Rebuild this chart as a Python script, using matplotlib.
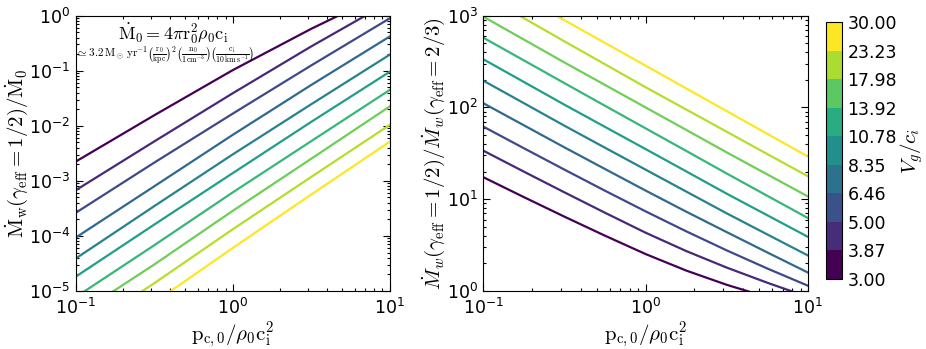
import numpy as np
import matplotlib
matplotlib.use('Agg')
import matplotlib.pyplot as plt
from matplotlib.colors import BoundaryNorm
import matplotlib.cm as cm

plt.rcParams['font.family'] = ['DejaVu Sans']
plt.rcParams['mathtext.fontset'] = 'dejavusans'
plt.rcParams['xtick.direction'] = 'in'
plt.rcParams['ytick.direction'] = 'in'
plt.rcParams['xtick.top'] = True
plt.rcParams['ytick.right'] = True
plt.rcParams['xtick.major.size'] = 5
plt.rcParams['ytick.major.size'] = 5
plt.rcParams['xtick.minor.size'] = 2.5
plt.rcParams['ytick.minor.size'] = 2.5
plt.rcParams['xtick.major.pad'] = 5
plt.rcParams['ytick.major.pad'] = 4

# x values (p_c0 / rho0 ci^2)
p_left = [0.1, 0.316, 1.0, 3.16, 10.0]
p_right = [0.1, 0.178, 0.316, 0.562, 1.0, 1.78, 3.16, 5.62, 10.0]

# V_g / c_i of each curve (also colorbar bounds)
vg_levels = [3.00, 3.87, 5.00, 6.46, 8.35, 10.78, 13.92, 17.98, 23.23, 30.00]

# log10 of Mdot_w(gamma=1/2)/Mdot_0, one row per V_g
log_mdot_left = [
    [-2.65, -1.81, -0.99, -0.24, 0.45],
    [-3.17, -2.285, -1.41, -0.56, 0.25],
    [-3.58, -2.67, -1.78, -0.905, -0.05],
    [-4.03, -3.10, -2.165, -1.26, -0.38],
    [-4.41, -3.46, -2.52, -1.61, -0.71],
    [-4.74, -3.795, -2.86, -1.93, -1.02],
    [-5.11, -4.17, -3.21, -2.28, -1.35],
    [-5.45, -4.52, -3.545, -2.60, -1.65],
    [-5.80, -4.86, -3.88, -2.93, -1.985],
    [-6.20, -5.21, -4.22, -3.25, -2.29],
]

# log10 of Mdot_w(1/2)/Mdot_w(2/3)
log_mdot_right = [
    [1.24, 1.0225, 0.81, 0.6025, 0.4025, 0.2225, 0.0675, -0.0675, -0.1875],
    [1.529, 1.30, 1.075, 0.8525, 0.635, 0.435, 0.255, 0.09, -0.065],
    [1.791, 1.555, 1.3225, 1.0925, 0.8675, 0.65, 0.4425, 0.245, 0.0575],
    [2.046, 1.805, 1.565, 1.329, 1.094, 0.864, 0.6415, 0.42, 0.201],
    [2.292, 2.046, 1.801, 1.561, 1.322, 1.083, 0.846, 0.616, 0.387],
    [2.525, 2.277, 2.03, 1.788, 1.546, 1.303, 1.06, 0.825, 0.59],
    [2.76, 2.512, 2.265, 2.018, 1.772, 1.526, 1.28, 1.037, 0.795],
    [2.989, 2.739, 2.49, 2.245, 2.0, 1.755, 1.51, 1.27, 1.03],
    [3.225, 2.972, 2.72, 2.47, 2.22, 1.977, 1.735, 1.492, 1.25],
    [3.45, 3.2, 2.95, 2.702, 2.455, 2.207, 1.96, 1.712, 1.464],
]

cmap = plt.get_cmap('viridis')
colors = [cmap(i / (len(vg_levels) - 1)) for i in range(len(vg_levels))]

fig = plt.figure(figsize=(9.26, 3.49), dpi=100)
ax1 = fig.add_axes([0.0818, 0.1662, 0.339, 0.789])
ax2 = fig.add_axes([0.5219, 0.1662, 0.3506, 0.789])
cax = fig.add_axes([0.892, 0.2006, 0.0173, 0.736])

for i in range(len(vg_levels)):
    ax1.plot(p_left, 10 ** np.array(log_mdot_left[i]), color=colors[i], lw=1.6)
    ax2.plot(p_right, 10 ** np.array(log_mdot_right[i]), color=colors[i], lw=1.6)

xlab = r'$\mathrm{p_{c,0}/\rho_0 c_i^2}$'
for ax in (ax1, ax2):
    ax.set_xscale('log')
    ax.set_yscale('log')
    ax.set_xlim(0.1, 10)
    ax.set_xlabel(xlab, fontsize=15, math_fontfamily='cm', labelpad=1)
    ax.tick_params(labelsize=12.5)
    ax.tick_params(which='both', width=0.8)

ax1.set_ylim(1e-5, 1)
ax2.set_ylim(1, 1e3)

ax1.set_ylabel(r'$\dot{\rm M}_{\rm w}(\gamma_{\rm eff}=1/2)/\dot{\rm M}_0$',
               fontsize=15, math_fontfamily='cm', labelpad=-1)
ax2.set_ylabel(r'$\dot{M}_w(\gamma_{\rm eff}=1/2)/\dot{M}_w(\gamma_{\rm eff}=2/3)$',
               fontsize=15, math_fontfamily='cm', labelpad=0)

ax1.text(0.31, 0.935, r'$\dot{\rm M}_0=4\pi{\rm r}_0^2\rho_0{\rm c_i}$',
         transform=ax1.transAxes, ha='center', va='center', fontsize=13, math_fontfamily='cm')
ax1.text(0.285, 0.855,
         r'$\simeq 3.2\,\mathrm{M_\odot\,yr^{-1}}\left(\frac{\mathrm{r_0}}{\mathrm{kpc}}\right)^2'
         r'\left(\frac{\mathrm{n_0}}{\mathrm{1\,cm^{-3}}}\right)'
         r'\left(\frac{\mathrm{c_i}}{\mathrm{10\,km\,s^{-1}}}\right)$',
         transform=ax1.transAxes, ha='center', va='center', fontsize=8, math_fontfamily='cm')

norm = BoundaryNorm(vg_levels, cmap.N)
sm = cm.ScalarMappable(norm=norm, cmap=cmap)
cb = fig.colorbar(sm, cax=cax, ticks=vg_levels, format='%.2f')
cb.ax.tick_params(labelsize=12.5, length=0)
cb.set_label(r'$V_g/c_i$', fontsize=15, math_fontfamily='cm', labelpad=1)

fig.savefig('out.png', dpi=100, facecolor='white')
